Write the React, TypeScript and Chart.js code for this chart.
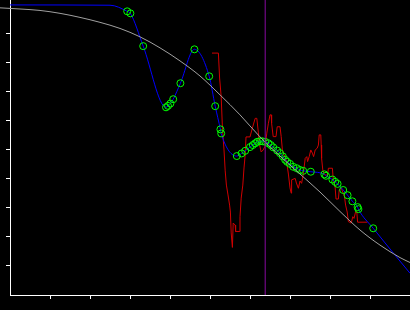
import React, { useEffect, useRef } from "react";
import { Chart, registerables } from "chart.js";

Chart.register(...registerables);

// Axis ranges and tick positions (no labels shown)
const X_MIN = 0;
const X_MAX = 10;
const Y_MIN = 0;
const Y_MAX = 10.17;
const X_TICKS = [1, 2, 3, 4, 5, 6, 7, 8, 9];
const Y_TICKS = [1, 2, 3, 4, 5, 6, 7, 8, 9];

// Vertical reference line
const MARKER_X = 6.38;

// Gray fitted curve
const fitX = [-0.25, 0.25, 0.75, 1.25, 1.75, 2.25, 2.75, 3.25, 3.75, 4.25, 4.75, 5.25, 5.75, 6.25, 6.75, 7.25, 7.75, 8.25, 8.75, 9.25, 9.75, 10.0];
const fitY = [9.9, 9.86, 9.81, 9.71, 9.57, 9.4, 9.19, 8.9, 8.52, 8.07, 7.55, 6.9, 6.21, 5.45, 4.79, 4.17, 3.55, 2.88, 2.24, 1.72, 1.29, 1.12];

// Blue smoothed series with green markers (marker flag: 1 = circle shown)
const smoothX = [0, 2.5, 2.93, 3.01, 3.33, 3.9, 3.95, 4.01, 4.08, 4.26, 4.61, 4.98, 5.13, 5.26, 5.28, 5.67, 5.79, 5.88, 6.0, 6.07, 6.13, 6.18, 6.25, 6.31, 6.38, 6.46, 6.52, 6.58, 6.68, 6.75, 6.82, 6.88, 6.93, 7.0, 7.08, 7.17, 7.25, 7.33, 7.52, 7.86, 7.9, 8.06, 8.13, 8.19, 8.33, 8.44, 8.56, 8.69, 8.71, 9.08, 10.0];
const smoothY = [10.0, 9.99, 9.78, 9.71, 8.58, 6.47, 6.52, 6.6, 6.75, 7.3, 8.47, 7.54, 6.51, 5.71, 5.57, 4.79, 4.88, 4.97, 5.1, 5.17, 5.23, 5.28, 5.3, 5.3, 5.28, 5.23, 5.17, 5.09, 4.98, 4.89, 4.78, 4.66, 4.59, 4.52, 4.42, 4.37, 4.31, 4.28, 4.25, 4.16, 4.11, 3.98, 3.9, 3.83, 3.62, 3.44, 3.23, 3.03, 2.96, 2.3, 0.75];
const smoothMarker = [0, 0, 1, 1, 1, 1, 1, 1, 1, 1, 1, 1, 1, 1, 1, 1, 1, 1, 1, 1, 1, 1, 1, 1, 1, 1, 1, 1, 1, 1, 1, 1, 1, 1, 1, 1, 1, 1, 1, 1, 1, 1, 1, 1, 1, 1, 1, 1, 1, 1, 0];

// Red raw series
const rawX = [5.05, 5.21, 5.24, 5.28, 5.31, 5.35, 5.38, 5.41, 5.45, 5.49, 5.51, 5.53, 5.56, 5.58, 5.63, 5.64, 5.73, 5.75, 5.78, 5.82, 5.85, 5.88, 5.9, 6.0, 6.06, 6.13, 6.17, 6.21, 6.23, 6.28, 6.33, 6.38, 6.42, 6.46, 6.5, 6.53, 6.54, 6.58, 6.65, 6.68, 6.75, 6.78, 6.81, 6.85, 6.89, 6.93, 6.96, 7.0, 7.03, 7.04, 7.13, 7.16, 7.21, 7.25, 7.29, 7.33, 7.38, 7.42, 7.44, 7.48, 7.52, 7.56, 7.59, 7.63, 7.68, 7.71, 7.73, 7.77, 7.78, 7.79, 7.82, 7.86, 7.94, 7.96, 8.06, 8.08, 8.13, 8.15, 8.21, 8.23, 8.28, 8.32, 8.36, 8.39, 8.43, 8.46, 8.53, 8.57, 8.6, 8.64, 8.67, 8.69, 8.93];
const rawY = [8.34, 8.34, 7.48, 6.83, 5.79, 5.0, 4.28, 3.79, 3.45, 3.1, 2.86, 2.14, 1.64, 2.48, 2.41, 2.19, 2.19, 2.7, 3.34, 3.79, 4.38, 4.83, 5.45, 5.45, 5.76, 6.09, 6.09, 5.59, 5.23, 4.93, 5.0, 5.14, 5.58, 5.92, 6.21, 6.21, 5.92, 5.46, 5.46, 5.8, 5.8, 5.46, 5.0, 4.83, 4.72, 4.45, 4.17, 3.69, 3.51, 3.97, 4.02, 3.86, 3.68, 3.93, 3.85, 4.14, 4.71, 4.77, 4.6, 4.77, 5.0, 4.89, 4.77, 5.0, 5.06, 5.17, 5.52, 5.52, 5.17, 4.71, 4.31, 4.14, 4.14, 4.37, 4.37, 4.02, 3.69, 3.31, 3.31, 3.62, 3.69, 3.55, 3.41, 3.1, 2.86, 2.53, 2.48, 2.7, 2.64, 2.87, 2.87, 2.51, 2.51];

const zip = (xs: number[], ys: number[]) => xs.map((x, i) => ({ x, y: ys[i] }));

export default function App() {
  const ref = useRef<HTMLCanvasElement | null>(null);

  useEffect(() => {
    document.body.style.margin = "0";
    document.body.style.background = "#000";
    const canvas = ref.current;
    if (!canvas) return;

    const chart = new Chart(canvas, {
      type: "line",
      data: {
        datasets: [
          {
            data: [
              { x: MARKER_X, y: Y_MIN },
              { x: MARKER_X, y: Y_MAX },
            ],
            borderColor: "rgb(136,10,160)",
            borderWidth: 1,
            pointRadius: 0,
            order: 0,
          },
          {
            data: zip(fitX, fitY),
            borderColor: "#a0a0a0",
            borderWidth: 1,
            pointRadius: 0,
            cubicInterpolationMode: "monotone",
            clip: false as any,
            order: 1,
          },
          {
            data: zip(smoothX, smoothY),
            borderColor: "#0000ff",
            borderWidth: 1,
            pointRadius: smoothMarker.map((m) => (m ? 3.5 : 0)),
            pointBorderColor: "#00ff00",
            pointBackgroundColor: "rgba(0,0,0,0)",
            pointBorderWidth: 1,
            cubicInterpolationMode: "monotone",
            order: 2,
          },
          {
            data: zip(rawX, rawY),
            borderColor: "#d00000",
            borderWidth: 1,
            pointRadius: 0,
            tension: 0,
            order: 3,
          },
        ],
      },
      options: {
        animation: false,
        responsive: false,
        maintainAspectRatio: false,
        layout: { padding: 0 },
        plugins: {
          legend: { display: false },
          tooltip: { enabled: false },
          title: { display: false },
        },
        scales: {
          x: {
            type: "linear",
            min: X_MIN,
            max: X_MAX,
            ticks: { display: false },
            grid: {
              display: true,
              drawOnChartArea: false,
              drawTicks: true,
              tickLength: 4,
              color: "#ffffff",
              lineWidth: 1,
            },
            border: { display: true, color: "#ffffff", width: 1 },
            afterBuildTicks: (scale: any) => {
              scale.ticks = X_TICKS.map((v) => ({ value: v }));
            },
            afterFit: (scale: any) => {
              scale.height = 15;
            },
          },
          y: {
            type: "linear",
            min: Y_MIN,
            max: Y_MAX,
            ticks: { display: false },
            grid: {
              display: true,
              drawOnChartArea: false,
              drawTicks: true,
              tickLength: 4,
              color: "#ffffff",
              lineWidth: 1,
            },
            border: { display: true, color: "#ffffff", width: 1 },
            afterBuildTicks: (scale: any) => {
              scale.ticks = Y_TICKS.map((v) => ({ value: v }));
            },
            afterFit: (scale: any) => {
              scale.width = 10;
            },
          },
        },
      },
    });

    return () => chart.destroy();
  }, []);

  return (
    <div style={{ position: "fixed", left: 0, top: 0, width: 410, height: 310, background: "#000" }}>
      <canvas ref={ref} width={410} height={310} style={{ display: "block", width: 410, height: 310 }} />
    </div>
  );
}
